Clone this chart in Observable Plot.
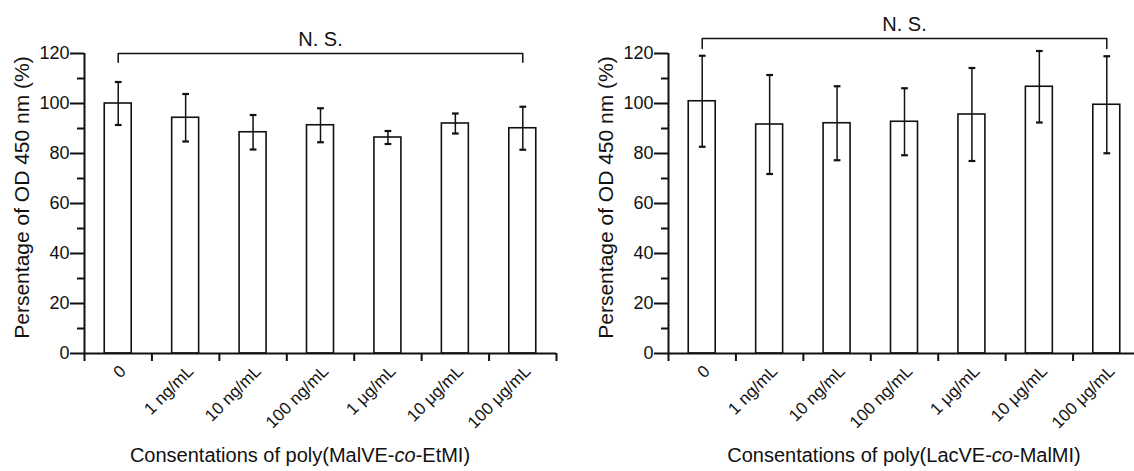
<!DOCTYPE html>
<html>
<head>
<meta charset="utf-8">
<script src="https://cdn.jsdelivr.net/npm/d3@7"></script>
<script src="https://cdn.jsdelivr.net/npm/@observablehq/plot@0.6"></script>
<style>
  html, body { margin: 0; padding: 0; background: #fff; }
  #wrap { position: relative; width: 1134px; height: 471px; overflow: hidden; font-family: "Liberation Sans", Arial, sans-serif; }
  .panel { position: absolute; top: 0; width: 567px; height: 471px; }
  .panel svg { max-width: none !important; width: 567px; height: 471px; }
  .xtitle { position: absolute; font-size: 20px; color: #111; white-space: nowrap; transform: translateX(-50%); }
</style>
</head>
<body>
<div id="wrap">
  <div class="panel" id="p1" style="left:0px"></div>
  <div class="panel" id="p2" style="left:584px"></div>
  <div class="xtitle" id="t1"></div>
  <div class="xtitle" id="t2"></div>
</div>
<script>
// ---- data ----
const categories = ["0", "1 ng/mL", "10 ng/mL", "100 ng/mL", "1 μg/mL", "10 μg/mL", "100 μg/mL"];
const meanA = [100, 94.3, 88.5, 91.3, 86.4, 92.0, 90.1];
const errA  = [8.6, 9.5, 6.9, 6.8, 2.6, 4.0, 8.6];
const meanB = [100.9, 91.6, 92.1, 92.7, 95.6, 106.7, 99.5];
const errB  = [18.2, 19.8, 14.8, 13.4, 18.6, 14.3, 19.4];
const yMajor = [0, 20, 40, 60, 80, 100, 120];
const yMinor = [10, 30, 50, 70, 90, 110];
const yLabel = "Persentage of OD 450 nm (%)";
const titleA = ["Consentations of poly(MalVE-", "co", "-EtMI)"];
const titleB = ["Consentations of poly(LacVE-", "co", "-MalMI)"];
const bracketA = {from: 0, to: 6, top: 120, bottom: 116.5, text: "N. S."};
const bracketB = {from: 0, to: 6, top: 126, bottom: 122, text: "N. S."};

function panel(means, errs, br) {
  const data = categories.map((c, i) => ({i, c, v: means[i], e: errs[i]}));
  const brPts = [
    {x: br.from + 0.5, y: br.bottom}, {x: br.from + 0.5, y: br.top},
    {x: br.to + 0.5, y: br.top}, {x: br.to + 0.5, y: br.bottom}
  ];
  return Plot.plot({
    width: 567, height: 471,
    marginLeft: 84, marginRight: 11, marginTop: 53, marginBottom: 118,
    style: {fontFamily: "'Liberation Sans', Arial, sans-serif", fontSize: "17px", color: "#111", background: "white", overflow: "visible"},
    x: {domain: [0, categories.length], axis: null},
    y: {domain: [0, 120], axis: null},
    marks: [
      Plot.rectY(data, {x1: d => d.i + 0.3, x2: d => d.i + 0.7, y1: 0, y2: "v", fill: "white", stroke: "#111", strokeWidth: 1.6}),
      Plot.ruleX(data, {x: d => d.i + 0.5, y1: d => d.v - d.e, y2: d => d.v + d.e, stroke: "#111", strokeWidth: 1.5}),
      Plot.link(data, {x1: d => d.i + 0.45, x2: d => d.i + 0.55, y1: d => d.v + d.e, y2: d => d.v + d.e, stroke: "#111", strokeWidth: 2.2}),
      Plot.link(data, {x1: d => d.i + 0.45, x2: d => d.i + 0.55, y1: d => d.v - d.e, y2: d => d.v - d.e, stroke: "#111", strokeWidth: 2.2}),
      // axes
      Plot.ruleX([0], {y1: 0, y2: 120, stroke: "#111", strokeWidth: 2}),
      Plot.ruleY([0], {x1: 0, x2: categories.length, stroke: "#111", strokeWidth: 2}),
      Plot.axisY({ticks: yMajor, tickSize: 14, tickFormat: () => "", strokeWidth: 2, label: null}),
      Plot.axisY({ticks: yMinor, tickSize: 7, tickFormat: () => "", strokeWidth: 2, label: null}),
      Plot.text(yMajor, {x: 0, y: d => d, text: d => String(d), textAnchor: "end", dx: -15, fontSize: 18, fill: "#111"}),
      Plot.axisX({ticks: d3.range(categories.length + 1), tickSize: 8, tickFormat: () => "", strokeWidth: 2, label: null}),
      Plot.axisX({ticks: data.map(d => d.i + 0.5), tickFormat: t => categories[Math.round(t - 0.5)], tickSize: 0, tickRotate: -45, tickPadding: 15, dx: 5, fontSize: 17, label: null}),
      // y title
      Plot.text([yLabel], {frameAnchor: "left", textAnchor: "middle", dx: -62, dy: -6, rotate: -90, text: d => d, fontSize: 21}),
      // bracket
      Plot.line(brPts, {x: "x", y: "y", stroke: "#111", strokeWidth: 1.5}),
      Plot.text([br], {x: d => (d.from + d.to) / 2 + 0.5, y: "top", text: "text", dy: -14, fontSize: 20})
    ]
  });
}

document.getElementById("p1").appendChild(panel(meanA, errA, bracketA));
document.getElementById("p2").appendChild(panel(meanB, errB, bracketB));

function setTitle(id, parts, cx, top) {
  const el = document.getElementById(id);
  el.innerHTML = parts[0] + "<i>" + parts[1] + "</i>" + parts[2];
  el.style.left = cx + "px";
  el.style.top = top + "px";
}
setTitle("t1", titleA, 300, 444);
setTitle("t2", titleB, 904, 444);
</script>
</body>
</html>
